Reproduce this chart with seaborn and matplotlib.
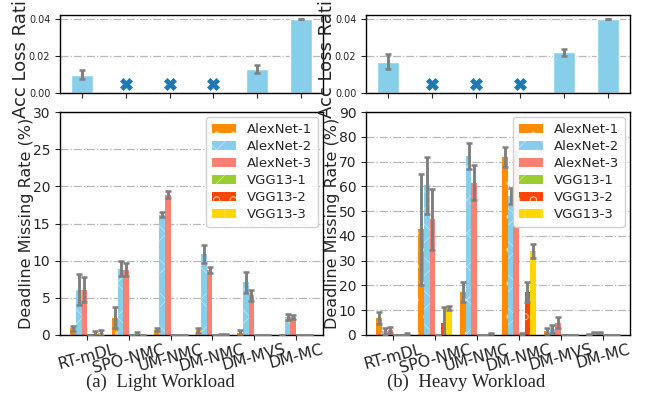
import numpy as np
import pandas as pd
import matplotlib
matplotlib.use("Agg")
import matplotlib.pyplot as plt
from matplotlib.patches import Patch
from matplotlib.container import BarContainer
import seaborn as sns

# ---------------- data ----------------
methods = ["RT-mDL", "SPO-NMC", "UM-NMC", "DM-NMC", "DM-MVS", "DM-MC"]
models = ["AlexNet-1", "AlexNet-2", "AlexNet-3", "VGG13-1", "VGG13-2", "VGG13-3"]

# accuracy loss ratio (None = not applicable, shown as an X marker)
acc_light = [0.010, None, None, None, 0.013, 0.040]
acc_light_err = [0.0025, 0, 0, 0, 0.0022, 0.0002]
acc_heavy = [0.017, None, None, None, 0.022, 0.040]
acc_heavy_err = [0.004, 0, 0, 0, 0.0018, 0.0002]
na_marker_y = 0.005

# deadline missing rate (%), rows = models, columns = methods
light_alexnet1 = [0.9, 2.3, 0.7, 0.65, 0.3, 0.0]
light_alexnet2 = [6.1, 8.9, 16.2, 10.9, 7.1, 2.4]
light_alexnet3 = [6.1, 8.8, 18.9, 8.8, 5.35, 2.4]
light_vgg1 = [0.05, 0.05, 0.05, 0.05, 0.05, 0.05]
light_vgg2 = [0.2, 0.15, 0.05, 0.1, 0.05, 0.05]
light_vgg3 = [0.3, 0.05, 0.05, 0.1, 0.05, 0.05]

light_alexnet1_err = [0.3, 1.4, 0.18, 0.35, 0.4, 0.0]
light_alexnet2_err = [2.1, 1.0, 0.3, 1.2, 1.4, 0.4]
light_alexnet3_err = [1.7, 0.9, 0.5, 0.4, 0.75, 0.3]
light_vgg1_err = [0, 0, 0, 0, 0, 0]
light_vgg2_err = [0.3, 0.3, 0, 0.05, 0, 0]
light_vgg3_err = [0.4, 0, 0, 0.05, 0, 0]

heavy_alexnet1 = [6.9, 42.6, 17.2, 72.0, 1.6, 0.4]
heavy_alexnet2 = [1.6, 60.5, 72.3, 56.0, 2.4, 0.9]
heavy_alexnet3 = [2.0, 46.7, 61.5, 72.3, 4.9, 1.1]
heavy_vgg1 = [0.1, 0.1, 0.1, 0.5, 0.1, 0.1]
heavy_vgg2 = [0.2, 4.8, 0.2, 17.2, 0.1, 0.1]
heavy_vgg3 = [0.5, 10.9, 0.7, 33.8, 0.1, 0.1]

heavy_alexnet1_err = [2.5, 22.4, 4.0, 4.0, 1.3, 0.2]
heavy_alexnet2_err = [1.4, 11.5, 5.3, 3.2, 1.7, 0.2]
heavy_alexnet3_err = [1.3, 12.4, 7.0, 2.0, 2.2, 0.3]
heavy_vgg1_err = [0, 0, 0, 0.3, 0, 0]
heavy_vgg2_err = [0, 6.5, 0, 4.0, 0, 0]
heavy_vgg3_err = [0.4, 0.9, 0.3, 2.8, 0, 0]

light_vals = [light_alexnet1, light_alexnet2, light_alexnet3, light_vgg1, light_vgg2, light_vgg3]
light_errs = [light_alexnet1_err, light_alexnet2_err, light_alexnet3_err, light_vgg1_err, light_vgg2_err, light_vgg3_err]
heavy_vals = [heavy_alexnet1, heavy_alexnet2, heavy_alexnet3, heavy_vgg1, heavy_vgg2, heavy_vgg3]
heavy_errs = [heavy_alexnet1_err, heavy_alexnet2_err, heavy_alexnet3_err, heavy_vgg1_err, heavy_vgg2_err, heavy_vgg3_err]

# ---------------- style ----------------
colors = ["#FF8C00", "#87CEEB", "#FA8072", "#9ACD32", "#FF4500", "#FFD700"]
hatches = [".", "x", "", "/", "o", "|"]
hatch_edge = (1, 1, 1, 0.55)
err_color = "#7f7f7f"

sns.set_style("ticks")
plt.rcParams["font.family"] = ["DejaVu Sans"]
plt.rcParams["hatch.linewidth"] = 0.5

fig = plt.figure(figsize=(6.51, 3.98), dpi=100)
W, H = 651.0, 398.0


def rect(x0, x1, y0, y1):
    return [x0 / W, 1 - y1 / H, (x1 - x0) / W, (y1 - y0) / H]


def grid(ax):
    ax.set_axisbelow(True)
    ax.yaxis.grid(True, linestyle="-.", color="#b8b8b8", linewidth=0.9)
    for s in ax.spines.values():
        s.set_visible(True)
        s.set_color("black")
        s.set_linewidth(1.0)


def draw_top(ax, acc, acc_err):
    vals = [v if v is not None else np.nan for v in acc]
    df = pd.DataFrame({"method": methods, "acc": vals})
    sns.barplot(data=df, x="method", y="acc", color="#87CEEB", saturation=1,
                width=0.5, errorbar=None, ax=ax)
    xs = np.arange(len(methods))
    mask = ~np.isnan(df["acc"].values)
    ax.errorbar(xs[mask], df["acc"].values[mask], yerr=np.array(acc_err)[mask],
                fmt="none", ecolor=err_color, elinewidth=2.1, capsize=2.5, capthick=1.8)
    na = np.isnan(df["acc"].values)
    sns.scatterplot(x=xs[na], y=[na_marker_y] * int(na.sum()), marker="X", s=75,
                    color="#1f77b4", edgecolor="#1f77b4", linewidth=0.5, ax=ax, zorder=5)
    ax.set_xlim(-0.5, len(methods) - 0.5)
    ax.set_ylim(0, 0.0422)
    ax.set_yticks([0.0, 0.02, 0.04])
    ax.set_yticklabels(["0.00", "0.02", "0.04"], fontsize=7)
    ax.set_xticks(xs)
    ax.set_xticklabels([])
    ax.set_xlabel("")
    ax.set_ylabel("Acc Loss Ratio", fontsize=13, labelpad=-1)
    grid(ax)


def draw_bottom(ax, vals, errs, ymax, ystep):
    rows = []
    for mi, m in enumerate(models):
        for ci, c in enumerate(methods):
            rows.append({"method": c, "model": m, "rate": vals[mi][ci]})
    df = pd.DataFrame(rows)
    sns.barplot(data=df, x="method", y="rate", hue="model", hue_order=models,
                order=methods, palette=colors, saturation=1, errorbar=None,
                width=0.8, ax=ax, legend=False)
    bar_conts = [c for c in ax.containers if isinstance(c, BarContainer)]
    for mi, cont in enumerate(bar_conts):
        xs, ys, es = [], [], []
        for p in cont.patches:
            p.set_hatch(hatches[mi])
            p.set_edgecolor(hatch_edge)
            p.set_linewidth(0)
            xc = p.get_x() + p.get_width() / 2
            ci = int(round(xc))
            xs.append(xc)
            ys.append(vals[mi][ci])
            es.append(errs[mi][ci])
        ax.errorbar(xs, ys, yerr=es, fmt="none", ecolor=err_color,
                    elinewidth=2.1, capsize=2.5, capthick=1.8, zorder=4)
    ax.set_xlim(-0.65, len(methods) - 0.35)
    ax.set_ylim(0, ymax)
    ax.set_yticks(np.arange(0, ymax + 0.1, ystep))
    ax.tick_params(axis="y", labelsize=10)
    ax.set_xticks(np.arange(len(methods)))
    ax.set_xticklabels(methods, rotation=15, fontsize=11.3, ha="center")
    ax.tick_params(axis="x", pad=1.5)
    ax.set_xlabel("")
    ax.set_ylabel("Deadline Missing Rate (%)", fontsize=11.5, labelpad=-1)
    handles = [Patch(facecolor=colors[i], hatch=hatches[i], edgecolor=hatch_edge,
                     linewidth=0, label=models[i]) for i in range(len(models))]
    ax.legend(handles=handles, loc="upper right", fontsize=9.5, handlelength=1.8,
              labelspacing=0.3, borderpad=0.45, handletextpad=0.8, framealpha=0.9,
              borderaxespad=0.4)
    grid(ax)


ax_lt = fig.add_axes(rect(60, 323, 15, 93))
ax_lb = fig.add_axes(rect(60, 323, 112, 335))
ax_rt = fig.add_axes(rect(366, 630, 15, 93))
ax_rb = fig.add_axes(rect(366, 630, 112, 335))

draw_top(ax_lt, acc_light, acc_light_err)
draw_top(ax_rt, acc_heavy, acc_heavy_err)
draw_bottom(ax_lb, light_vals, light_errs, 30, 5)
draw_bottom(ax_rb, heavy_vals, heavy_errs, 90, 10)

fig.text(160 / W, 1 - 382 / H, "(a)  Light Workload", ha="center", va="center",
         fontsize=13.5, family=["Liberation Serif", "DejaVu Serif"])
fig.text(466 / W, 1 - 382 / H, "(b)  Heavy Workload", ha="center", va="center",
         fontsize=13.5, family=["Liberation Serif", "DejaVu Serif"])

fig.savefig("out.png", dpi=100)
